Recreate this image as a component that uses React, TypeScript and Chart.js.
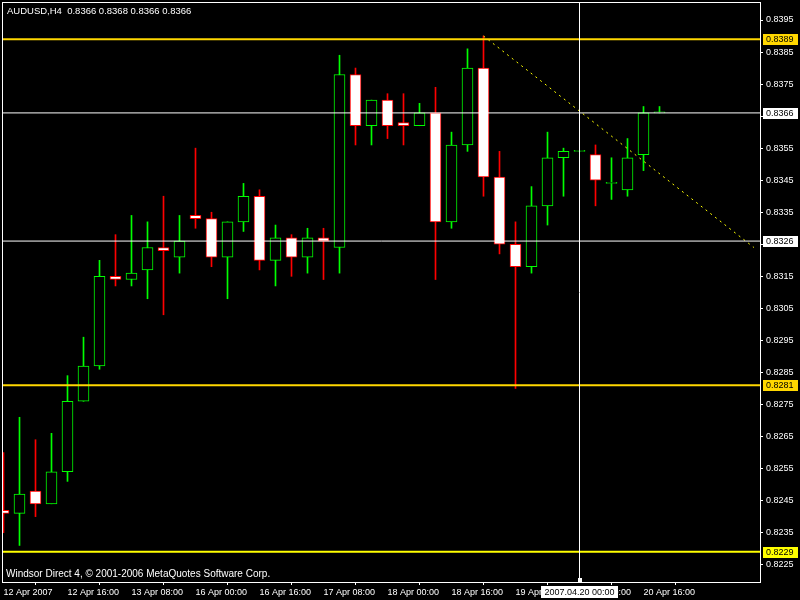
import React, { useEffect, useRef } from "react";
import { Chart, registerables } from "chart.js";

Chart.register(...registerables);

// ---------- DATA ----------
const symbolTitle = "AUDUSD,H4";
const lastQuote = ["0.8366", "0.8368", "0.8366", "0.8366"];
const footerText = "Windsor Direct 4, \u00A9 2001-2006 MetaQuotes Software Corp.";

// H4 candles, 12 Apr 2007 00:00 onward
const opens = [
  0.8242, 0.8241, 0.8248, 0.8244, 0.8254, 0.8276, 0.8287, 0.8315, 0.8314, 0.8317,
  0.8324, 0.8321, 0.8334, 0.8333, 0.8321, 0.8332, 0.834, 0.832, 0.8327, 0.8321,
  0.8327, 0.8324, 0.8378, 0.8362, 0.837, 0.8363, 0.8362, 0.8366, 0.8332, 0.8356,
  0.838, 0.8346, 0.8325, 0.8318, 0.8337, 0.8352, 0.8354, 0.8353, 0.8344, 0.8342,
  0.8353, 0.8366,
];
const highs = [
  0.826, 0.8271, 0.8264, 0.8266, 0.8284, 0.8296, 0.832, 0.8328, 0.8334, 0.8332,
  0.834, 0.8334, 0.8355, 0.8335, 0.8332, 0.8344, 0.8342, 0.8331, 0.8328, 0.833,
  0.833, 0.8384, 0.838, 0.837, 0.8372, 0.8372, 0.8369, 0.8374, 0.836, 0.8386,
  0.839, 0.8354, 0.8332, 0.8343, 0.836, 0.8355, 0.8354, 0.8356, 0.8352, 0.8358,
  0.8368, 0.8368,
];
const lows = [
  0.8235, 0.8231, 0.824, 0.8244, 0.8251, 0.8276, 0.8286, 0.8312, 0.8312, 0.8308,
  0.8303, 0.8316, 0.833, 0.8318, 0.8308, 0.8329, 0.8317, 0.8312, 0.8315, 0.8316,
  0.8314, 0.8316, 0.8356, 0.8356, 0.8358, 0.8356, 0.8362, 0.8314, 0.833, 0.8354,
  0.834, 0.8322, 0.828, 0.8316, 0.8331, 0.834, 0.8354, 0.8337, 0.8339, 0.834,
  0.8348, 0.8366,
];
const closes = [
  0.8241, 0.8247, 0.8244, 0.8254, 0.8276, 0.8287, 0.8315, 0.8314, 0.8316, 0.8324,
  0.8323, 0.8326, 0.8333, 0.8321, 0.8332, 0.834, 0.832, 0.8327, 0.8321, 0.8327,
  0.8326, 0.8378, 0.8362, 0.837, 0.8362, 0.8362, 0.8366, 0.8332, 0.8356, 0.838,
  0.8346, 0.8325, 0.8318, 0.8337, 0.8352, 0.8354, 0.8354, 0.8345, 0.8344, 0.8352,
  0.8366, 0.8366,
];

const timeLabels = [
  "12 Apr 2007", "12 Apr 16:00", "13 Apr 08:00", "16 Apr 00:00", "16 Apr 16:00",
  "17 Apr 08:00", "18 Apr 00:00", "18 Apr 16:00", "19 Apr 08:00", "20 Apr 00:00",
  "20 Apr 16:00",
];
const timeTickIndex = [0, 4, 8, 12, 16, 20, 24, 28, 32, 36, 40];

const priceTicks = [
  0.8225, 0.8235, 0.8245, 0.8255, 0.8265, 0.8275, 0.8285, 0.8295, 0.8305,
  0.8315, 0.8325, 0.8335, 0.8345, 0.8355, 0.8365, 0.8375, 0.8385, 0.8395,
];

const levelValues = [0.8389, 0.8366, 0.8326, 0.8281, 0.8229];
const trendX = [30, 46.9];
const trendY = [0.839, 0.8324];
const cursorIndex = 36;
const cursorLabel = "2007.04.20 00:00";

// ---------- STYLE ----------
const levelStyle = [
  { color: "#FFD700", width: 2 },
  { color: "#FFFFFF", width: 1 },
  { color: "#FFFFFF", width: 1 },
  { color: "#FFD700", width: 2 },
  { color: "#FFFF00", width: 2 },
];
const BULL = "#00FF00";
const BEAR = "#FF0000";
const FONT = "'Liberation Sans', Arial, sans-serif";

// layout (pixels)
const PX_PER_BAR = 16;
const PLOT_LEFT = 3;
const PLOT_TOP = 3;
const Y_AXIS_W = 40;
const X_AXIS_H = 18;
const PLOT_W = 800 - Y_AXIS_W - PLOT_LEFT;
const PLOT_H = 600 - X_AXIS_H - PLOT_TOP;
const X_MIN = -0.5 / PX_PER_BAR;
const X_MAX = X_MIN + PLOT_W / PX_PER_BAR;
const PX_PER_PRICE = 32040; // pixels per 1.0 of price
const Y_MAX = 0.8395 + (20 - PLOT_TOP) / PX_PER_PRICE;
const Y_MIN = Y_MAX - PLOT_H / PX_PER_PRICE;

const bgPlugin = {
  id: "bgfill",
  beforeDraw(chart: any) {
    const ctx = chart.ctx;
    ctx.save();
    ctx.fillStyle = "#000";
    ctx.fillRect(0, 0, chart.width, chart.height);
    ctx.restore();
  },
};

const overlayPlugin = {
  id: "overlay",
  afterDraw(chart: any) {
    const { ctx, chartArea: ca, scales } = chart;
    const xs = scales.x;
    const ys = scales.y;
    ctx.save();
    // frame
    ctx.strokeStyle = "#FFFFFF";
    ctx.lineWidth = 1;
    ctx.strokeRect(ca.left - 0.5, ca.top - 0.5, ca.right - ca.left + 1, ca.bottom - ca.top + 1);

    // cursor vertical line
    const cx = Math.floor(xs.getPixelForValue(cursorIndex)) + 0.5;
    ctx.beginPath();
    ctx.moveTo(cx, ca.top);
    ctx.lineTo(cx, ca.bottom);
    ctx.stroke();
    ctx.fillStyle = "#FFFFFF";
    ctx.fillRect(cx - 1.5, ca.bottom - 4, 4, 4);

    // header
    ctx.font = "9.5px " + FONT;
    ctx.textBaseline = "alphabetic";
    ctx.textAlign = "left";
    ctx.fillStyle = "#FFFFFF";
    ctx.fillText(symbolTitle + "  " + lastQuote.join(" "), 7, 14);
    // footer
    ctx.font = "10px " + FONT;
    ctx.fillText(footerText, 6, 577);

    // level price boxes
    ctx.font = "9px " + FONT;
    ctx.textBaseline = "middle";
    levelValues.forEach((v, i) => {
      const y = Math.round(ys.getPixelForValue(v));
      ctx.fillStyle = levelStyle[i].color;
      ctx.fillRect(ca.right + 3, y - 5, 35, 11);
      ctx.fillStyle = "#000";
      ctx.fillText(v.toFixed(4), ca.right + 6, y + 0.5);
    });

    // cursor time box
    const tw = ctx.measureText(cursorLabel).width;
    const bw = Math.ceil(tw) + 6;
    ctx.fillStyle = "#FFFFFF";
    ctx.fillRect(Math.round(cx - bw / 2), ca.bottom + 4, bw, 12);
    ctx.fillStyle = "#000";
    ctx.textAlign = "center";
    ctx.fillText(cursorLabel, cx, ca.bottom + 10.5);
    ctx.restore();
  },
};

export default function App() {
  const ref = useRef<HTMLCanvasElement>(null);

  useEffect(() => {
    document.body.style.margin = "0";
    document.body.style.background = "#000";
    const canvas = ref.current;
    if (!canvas) return;

    const isBull = (i: number) => closes[i] >= opens[i];

    const bodyData = opens.map((o, i) => ({ x: i, y: [o, closes[i]] }));
    const wickData = opens.map((_, i) => ({ x: i, y: [lows[i], highs[i]] }));

    const levelSets = levelValues.map((v, i) => ({
      type: "line" as const,
      data: [
        { x: X_MIN, y: v },
        { x: X_MAX, y: v },
      ],
      borderColor: levelStyle[i].color,
      borderWidth: levelStyle[i].width,
      pointRadius: 0,
      order: 0,
    }));

    const chart = new Chart(canvas, {
      type: "bar",
      data: {
        datasets: [
          {
            type: "bar",
            data: wickData as any,
            backgroundColor: opens.map((_, i) => (isBull(i) ? BULL : BEAR)),
            borderWidth: 0,
            barThickness: 1,
            grouped: false,
            order: 3,
          } as any,
          {
            type: "bar",
            data: bodyData as any,
            backgroundColor: opens.map((_, i) => (isBull(i) ? "#000000" : "#FFFFFF")),
            borderColor: opens.map((_, i) => (isBull(i) ? BULL : BEAR)),
            borderWidth: 1,
            borderSkipped: false,
            barThickness: 11,
            minBarLength: 1,
            grouped: false,
            order: 2,
          } as any,
          ...levelSets,
          {
            type: "line",
            data: trendX.map((x, i) => ({ x, y: trendY[i] })),
            borderColor: "#FFFF00",
            borderWidth: 1,
            borderDash: [2, 4],
            pointRadius: 0,
            order: 0,
          } as any,
        ],
      },
      options: {
        animation: false,
        responsive: false,
        devicePixelRatio: 1,
        layout: { padding: { left: PLOT_LEFT, top: PLOT_TOP, right: 0, bottom: 0 } },
        plugins: { legend: { display: false }, tooltip: { enabled: false } },
        events: [],
        scales: {
          x: {
            type: "linear",
            min: X_MIN,
            max: X_MAX,
            offset: false,
            border: { display: false },
            grid: { drawOnChartArea: false, drawTicks: true, tickLength: 3, color: "#FFFFFF" },
            afterBuildTicks: (scale: any) => {
              scale.ticks = timeTickIndex.map((v) => ({ value: v }));
            },
            afterFit: (scale: any) => {
              scale.height = X_AXIS_H;
              scale.paddingLeft = 0;
              scale.paddingRight = 0;
            },
            ticks: {
              autoSkip: false,
              maxRotation: 0,
              minRotation: 0,
              align: "start",
              padding: 2,
              color: "#FFFFFF",
              font: { family: FONT, size: 9 },
              callback: (value: any) => {
                const k = timeTickIndex.indexOf(Number(value));
                return k >= 0 ? timeLabels[k] : "";
              },
            },
          },
          y: {
            type: "linear",
            position: "right",
            min: Y_MIN,
            max: Y_MAX,
            border: { display: false },
            grid: { drawOnChartArea: false, drawTicks: true, tickLength: 3, color: "#FFFFFF" },
            afterBuildTicks: (scale: any) => {
              scale.ticks = priceTicks.map((v) => ({ value: v }));
            },
            afterFit: (scale: any) => {
              scale.width = Y_AXIS_W;
              scale.paddingTop = 0;
              scale.paddingBottom = 0;
            },
            ticks: {
              padding: 3,
              color: "#FFFFFF",
              font: { family: FONT, size: 9 },
              callback: (value: any) => Number(value).toFixed(4),
            },
          },
        },
      } as any,
      plugins: [bgPlugin, overlayPlugin],
    });

    return () => chart.destroy();
  }, []);

  return (
    <div style={{ position: "fixed", left: 0, top: 0, width: 800, height: 600, background: "#000" }}>
      <canvas ref={ref} width={800} height={600} style={{ display: "block", width: 800, height: 600 }} />
    </div>
  );
}
